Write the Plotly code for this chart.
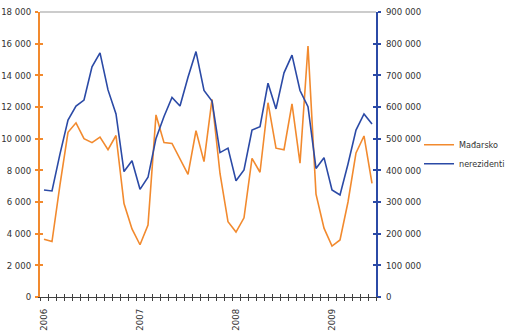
import plotly.graph_objects as go

# ---- data ----
periods = [f"{y}-{m:02d}" for y in (2006, 2007, 2008, 2009) for m in range(1, 13)][:42]
year_labels = ["2006", "2007", "2008", "2009"]
madjarsko = [3650, 3500, 7100, 10400, 11000, 10000, 9750, 10100, 9300, 10200, 5900, 4300,
             3300, 4550, 11500, 9750, 9700, 8700, 7750, 10500, 8550, 12480, 7800, 4750,
             4100, 5000, 8750, 7880, 12270, 9400, 9300, 12200, 8450, 15850, 6500, 4350,
             3220, 3600, 6000, 9100, 10170, 7180]
nerezidenti = [338000, 335000, 452000, 559000, 603000, 622000, 727000, 771000, 654000, 578000, 396000, 430000,
               340000, 378000, 501000, 570000, 630000, 603000, 694000, 775000, 652000, 619000, 456000, 470000,
               367000, 401000, 527000, 538000, 675000, 594000, 708000, 764000, 652000, 601000, 406000, 440000,
               338000, 322000, 420000, 527000, 578000, 546000]
left_ticks = list(range(0, 18001, 2000))
right_ticks = list(range(0, 900001, 100000))

ORANGE = "#F28A2E"
BLUE = "#2B4AA6"
DARK = "#404040"
FONT = "Liberation Sans Narrow, DejaVu Sans Condensed, Arial Narrow, sans-serif"
TF = dict(family=FONT, size=9.5, color="#333333")

idx = list(range(len(periods)))
year_pos = [periods.index(f"{y}-01") for y in year_labels]
xr = [-0.5, len(periods) - 0.5]

fig = go.Figure()
fig.add_trace(go.Scatter(x=idx, y=madjarsko, name="Mađarsko", mode="lines",
                         line=dict(color=ORANGE, width=1.6), text=periods, yaxis="y"))
fig.add_trace(go.Scatter(x=idx, y=nerezidenti, name="nerezidenti", mode="lines",
                         line=dict(color=BLUE, width=1.6), text=periods, yaxis="y2"))
# helper traces so overlay axes are drawn
for xa, ya in (("x2", "y3"), ("x3", "y4")):
    fig.add_trace(go.Scatter(x=[None], y=[None], xaxis=xa, yaxis=ya, showlegend=False,
                             hoverinfo="skip"))

fig.update_layout(
    width=510, height=331,
    margin=dict(l=40, r=134, t=12, b=34, autoexpand=False),
    paper_bgcolor="white", plot_bgcolor="white",
    separators=", ",
    font=dict(family=FONT, size=10, color="#333333"),
    showlegend=True,
    legend=dict(x=1.128, y=0.585, xanchor="left", yanchor="top", bgcolor="rgba(0,0,0,0)",
                font=dict(family=FONT, size=9, color="#333333"), itemwidth=30,
                tracegroupgap=0),
    xaxis=dict(range=xr, tickmode="linear", tick0=-0.5, dtick=1, ticks="outside", ticklen=3,
               tickcolor=DARK, showticklabels=False, showline=True, linecolor=DARK,
               linewidth=1, showgrid=False, zeroline=False, anchor="y", automargin=False),
    xaxis2=dict(range=xr, overlaying="x", anchor="y", side="bottom", tickmode="linear",
                tick0=-0.5, dtick=1, ticks="inside", ticklen=3, tickcolor=DARK,
                showticklabels=False, showline=False, showgrid=False, zeroline=False,
                automargin=False),
    xaxis3=dict(range=xr, overlaying="x", anchor="y", side="bottom", tickmode="array",
                tickvals=year_pos, ticktext=year_labels, ticks="", tickangle=-90,
                ticklabelstandoff=9, showline=False, showgrid=False, zeroline=False,
                automargin=False, tickfont=TF),
    yaxis=dict(range=[0, 18000], tickmode="array", tickvals=left_ticks, tickformat=",d",
               ticks="outside", ticklen=3, tickcolor=ORANGE, tickwidth=1.5,
               showline=True, linecolor=ORANGE, linewidth=2, showgrid=False, zeroline=False,
               ticklabelstandoff=2, anchor="x", automargin=False, tickfont=TF),
    yaxis3=dict(range=[0, 18000], overlaying="y", side="left", anchor="x", tickmode="array",
                tickvals=left_ticks, ticks="inside", ticklen=3, tickcolor=ORANGE, tickwidth=1.5,
                showticklabels=False, showline=False, showgrid=False, zeroline=False,
                automargin=False),
    yaxis2=dict(range=[0, 900000], overlaying="y", side="right", anchor="x", tickmode="array",
                tickvals=right_ticks, tickformat=",d", ticks="outside", ticklen=3,
                tickcolor=BLUE, tickwidth=1.5, showline=True, linecolor=BLUE, linewidth=2,
                showgrid=False, zeroline=False, ticklabelstandoff=3, automargin=False,
                tickfont=TF),
    yaxis4=dict(range=[0, 900000], overlaying="y", side="right", anchor="x", tickmode="array",
                tickvals=right_ticks, ticks="inside", ticklen=3, tickcolor=BLUE, tickwidth=1.5,
                showticklabels=False, showline=False, showgrid=False, zeroline=False,
                automargin=False),
    shapes=[dict(type="line", xref="paper", yref="paper", x0=0, x1=1, y0=1, y1=1,
                 line=dict(color="#BBBBBB", width=1.5), layer="below")],
)

fig.write_html("out.html")
